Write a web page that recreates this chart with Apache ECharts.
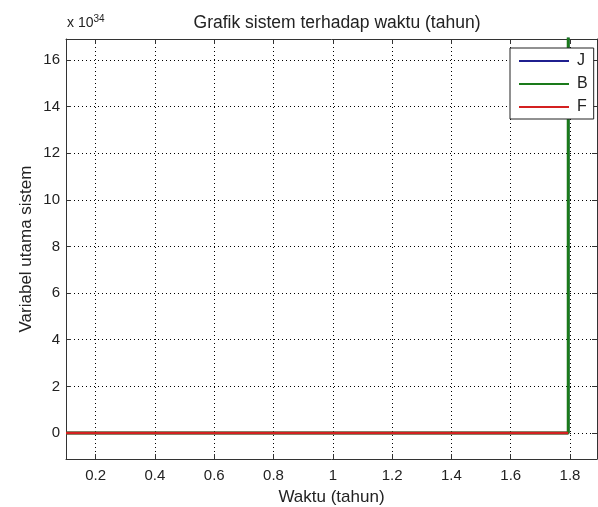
<!DOCTYPE html>
<html><head><meta charset="utf-8">
<script src="https://cdn.jsdelivr.net/npm/echarts@6/dist/echarts.min.js"></script>
<style>html,body{margin:0;padding:0;background:#fff}#c{width:598px;height:507px}</style>
</head><body><div id="c"></div>
<script>
// values in units of 10^34
const timeJ = [0.1, 1.794, 1.794];
const valJ  = [0, 0, 40];
const timeB = [0.1, 1.794, 1.794];
const valB  = [0, 0, 40];
const timeF = [0.1, 1.794];
const valF  = [0, 0];
const xTicks = [0.2, 0.4, 0.6, 0.8, 1, 1.2, 1.4, 1.6, 1.8];
const yTicks = [0, 2, 4, 6, 8, 10, 12, 14, 16];
const seriesNames = ['J', 'B', 'F'];
const colors = ['#1f1f8f', '#1a7a1a', '#d42020'];

const pair = (xs, ys) => xs.map((x, i) => [x, ys[i]]);
const FONT = 'Liberation Sans, Arial, sans-serif';
const XMIN = 0.1, XMAX = 1.891, YMIN = -1.115, YMAX = 16.9;
const axisCol = '#333';
const txtCol = '#222';

function xAx(pos, show) {
  return {
    type: 'value', position: pos, min: XMIN, max: XMAX,
    axisLine: { show: true, onZero: false, lineStyle: { color: axisCol, width: 1 } },
    axisTick: { show: true, inside: true, length: 5, customValues: xTicks, lineStyle: { color: axisCol } },
    axisLabel: { show: show, customValues: xTicks, color: txtCol, fontFamily: FONT, fontSize: 15, margin: 9 },
    splitLine: { show: show, lineStyle: { color: '#000', type: [1, 3], width: 1 } },
    name: show ? 'Waktu (tahun)' : '', nameLocation: 'middle', nameGap: 30,
    nameTextStyle: { color: txtCol, fontFamily: FONT, fontSize: 17 }
  };
}
function yAx(pos, show) {
  return {
    type: 'value', position: pos, min: YMIN, max: YMAX,
    axisLine: { show: true, onZero: false, lineStyle: { color: axisCol, width: 1 } },
    axisTick: { show: true, inside: true, length: 5, customValues: yTicks, lineStyle: { color: axisCol } },
    axisLabel: { show: show, customValues: yTicks, color: txtCol, fontFamily: FONT, fontSize: 15, margin: 6 },
    splitLine: { show: show, lineStyle: { color: '#000', type: [1, 3], width: 1 } },
    name: show ? 'Variabel utama sistem' : '', nameLocation: 'middle', nameGap: 31,
    nameMoveOverlap: false,
    nameTextStyle: { color: txtCol, fontFamily: FONT, fontSize: 17 }
  };
}

const chart = echarts.init(document.getElementById('c'), null, { renderer: 'canvas' });
chart.setOption({
  backgroundColor: '#fff',
  animation: false,
  title: {
    text: 'Grafik sistem terhadap waktu (tahun)', left: 332, textAlign: 'center', top: 9,
    textStyle: { fontFamily: FONT, fontSize: 17.5, fontWeight: 'normal', color: txtCol }
  },
  graphic: [{
    type: 'text', left: 67, top: 14,
    style: {
      text: 'x 10{s|34}', fill: txtCol, font: '14px ' + FONT,
      rich: { s: { fontSize: 10, verticalAlign: 'top', padding: [0, 0, 9, 0], fill: txtCol, fontFamily: FONT } }
    }
  }],
  grid: { left: 66, top: 39, right: 1, bottom: 48, containLabel: false, outerBoundsMode: 'none' },
  xAxis: [xAx('bottom', true), xAx('top', false)],
  yAxis: [yAx('left', true), yAx('right', false)],
  legend: {
    orient: 'vertical', left: 510, top: 48,
    padding: [5, 6, 4, 9], itemGap: 7, itemWidth: 50, itemHeight: 14,
    backgroundColor: '#fff', borderColor: '#222', borderWidth: 1,
    textStyle: { fontFamily: FONT, fontSize: 16, color: txtCol, padding: [0, 0, 0, 3] },
    data: seriesNames.map(n => ({ name: n, icon: 'path://M0,6 L50,6 L50,8 L0,8 Z' }))
  },
  series: [
    { name: seriesNames[0], type: 'line', data: pair(timeJ, valJ), showSymbol: false, clip: true,
      lineStyle: { color: colors[0], width: 2.5 }, itemStyle: { color: colors[0] } },
    { name: seriesNames[1], type: 'line', data: pair(timeB, valB), showSymbol: false, clip: true,
      lineStyle: { color: colors[1], width: 3 }, itemStyle: { color: colors[1] } },
    { name: seriesNames[2], type: 'line', data: pair(timeF, valF), showSymbol: false, clip: true,
      lineStyle: { color: colors[2], width: 2.5 }, itemStyle: { color: colors[2] } }
  ]
});
</script></body></html>
